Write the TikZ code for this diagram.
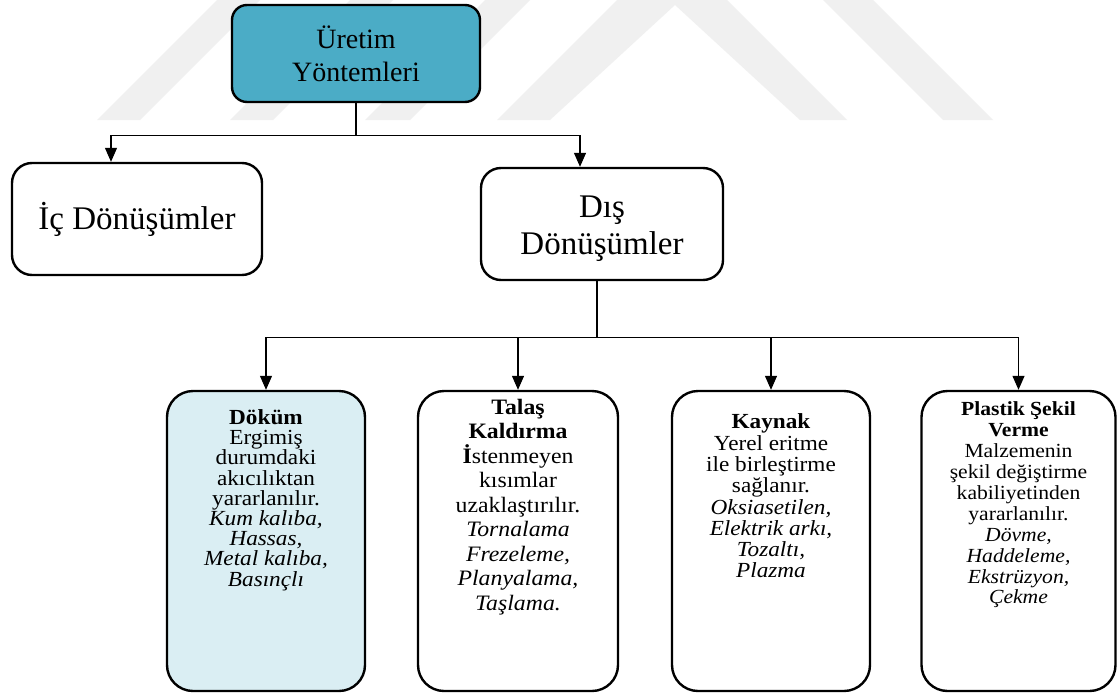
\documentclass[tikz,border=0pt]{standalone}
\usepackage{fontspec}
\setmainfont{Liberation Serif}
\newfontfamily\widefont{Liberation Serif}[FakeStretch=1.08]
\usetikzlibrary{arrows.meta}
\definecolor{topfill}{HTML}{4BACC6}
\definecolor{dokfill}{HTML}{DAEEF3}
\definecolor{wm}{HTML}{F0F0F0}
\begin{document}
\begin{tikzpicture}[x=1pt,y=-1pt,
  box/.style={draw=black, line width=2.4pt, rounded corners=#1, inner sep=0pt, align=center},
  box/.default=20pt,
  conn/.style={draw=black, line width=1.2pt},
  arr/.style={conn, -{Triangle[length=14pt,width=12pt]}},
  bigtxt/.style={align=center, inner sep=0pt, font=\fontsize{33}{37}\selectfont},
  toptxt/.style={font=\fontsize{28}{33}\selectfont},
  smalltxt/.style={align=center, inner sep=0pt, font=\widefont\fontsize{21.5}{20.2}\selectfont},
  band/.style={fill=wm, draw=none}]
\useasboundingbox (0,0) rectangle (1118,693);
\fill[white] (0,0) rectangle (1118,693);
% watermark
\fill[band] (97,120) -- (140,120) -- (260,0) -- (217,0) -- cycle;
\fill[band] (230,120) -- (273,120) -- (393,0) -- (350,0) -- cycle;
\fill[band] (365,120) -- (410,120) -- (530,0) -- (485,0) -- cycle;
\fill[band] (497,120) -- (617,0) -- (727,0) -- (847,120) -- (800,120) -- (675,5) -- (550,120) -- cycle;
\fill[band] (943,120) -- (993,120) -- (873,0) -- (823,0) -- cycle;
% boxes
\node[box=15pt, fill=topfill, minimum width=248pt, minimum height=97pt, toptxt] (top) at (356,53.5) {Üretim\\Yöntemleri};
\node[box, fill=white, minimum width=250pt, minimum height=112pt, bigtxt] (ic) at (137,219) {İç Dönüşümler};
\node[box, fill=white, minimum width=242pt, minimum height=112pt] (dis) at (602,224) {};
\node[bigtxt] (dist) at (602,229) {Dış\\Dönüşümler};
\node[box=26pt, fill=dokfill, minimum width=198pt, minimum height=300pt] (dokum) at (266,541) {};
\node[box=26pt, fill=white, minimum width=200pt, minimum height=300pt] (talas) at (518,541) {};
\node[box=26pt, fill=white, minimum width=198pt, minimum height=300pt] (kaynak) at (771,541) {};
\node[box=26pt, fill=white, minimum width=194pt, minimum height=300pt] (plastik) at (1018.5,541) {};
% texts
\node[smalltxt] (dokumt) at (266,500) {\textbf{Döküm}\\Ergimiş\\durumdaki\\akıcılıktan\\yararlanılır.\\\textit{Kum kalıba,}\\\textit{Hassas,}\\\textit{Metal kalıba,}\\\textit{Basınçlı}};
\node[smalltxt, font=\widefont\fontsize{22}{24.5}\selectfont] (talast) at (518,507) {\textbf{Talaş}\\\textbf{Kaldırma}\\\textbf{İ}stenmeyen\\kısımlar\\uzaklaştırılır.\\\textit{Tornalama}\\\textit{Frezeleme,}\\\textit{Planyalama,}\\\textit{Taşlama.}};
\node[smalltxt, font=\widefont\fontsize{21.5}{21.3}\selectfont] (kaynakt) at (771,496) {\textbf{Kaynak}\\Yerel eritme\\ile birleştirme\\sağlanır.\\\textit{Oksiasetilen,}\\\textit{Elektrik arkı,}\\\textit{Tozaltı,}\\\textit{Plazma}};
\node[smalltxt, font=\widefont\fontsize{20}{20.9}\selectfont] (plastikt) at (1018.5,505) {\textbf{Plastik Şekil}\\\textbf{Verme}\\Malzemenin\\şekil değiştirme\\kabiliyetinden\\yararlanılır.\\\textit{Dövme,}\\\textit{Haddeleme,}\\\textit{Ekstrüzyon,}\\\textit{Çekme}};
% connectors
\draw[conn] (top.south) -- ++(0,32) coordinate (bus1);
\draw[arr] (bus1) -| ([xshift=-26pt]ic.north);
\draw[arr] (bus1) -| ([xshift=-22pt]dis.north);
\draw[conn] ([xshift=-5pt]dis.south) -- ++(0,56) coordinate (bus2);
\draw[arr] (bus2) -| (dokum.north);
\draw[arr] (bus2) -| (talas.north);
\draw[arr] (bus2) -| (kaynak.north);
\draw[arr] (bus2) -| (plastik.north);
\end{tikzpicture}
\end{document}
